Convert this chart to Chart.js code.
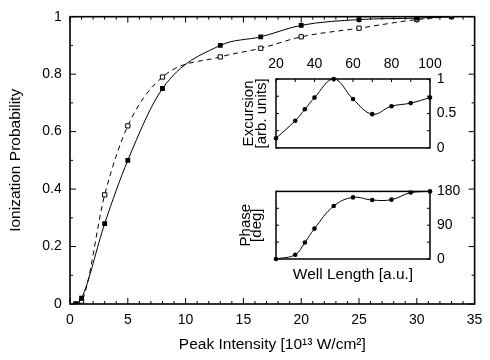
<!DOCTYPE html>
<html>
<head>
<meta charset="utf-8">
<script src="https://cdn.jsdelivr.net/npm/chart.js@4"></script>
<style>
  html, body { margin: 0; padding: 0; background: #fff; }
  #wrap { position: relative; width: 490px; height: 360px; overflow: hidden; }
  canvas { position: absolute; }
</style>
</head>
<body>
<div id="wrap">
  <canvas id="mainChart" width="490" height="360" style="left:0;top:0"></canvas>
  <canvas id="excChart" width="235" height="115" style="left:230px;top:48px"></canvas>
  <canvas id="phaseChart" width="235" height="113" style="left:230px;top:176px"></canvas>
</div>
<script>
// main plot data
const intensity = [0.5, 1, 3, 5, 8, 13, 16.5, 20, 25, 30, 33];
const probSolid = [0, 0.02, 0.28, 0.50, 0.75, 0.90, 0.93, 0.97, 0.99, 0.995, 1.0];
const probDashed = [0, 0.01, 0.38, 0.62, 0.79, 0.86, 0.89, 0.93, 0.96, 0.99, 1.0];

// inset data
const wellLength = [20, 30, 35, 40, 50, 60, 70, 80, 90, 100];
const excursion = [0.14, 0.395, 0.56, 0.73, 1.0, 0.71, 0.49, 0.605, 0.65, 0.73];
const phase = [0, 11.5, 44, 81, 141, 164, 157, 158, 177, 180];

Chart.defaults.font.family = '"Liberation Sans", Arial, sans-serif';
Chart.defaults.color = '#000';

const tickFont = { size: 14 };
const titleFont = { size: 15.5 };
const plainNum = v => String(Math.round(v * 100) / 100);

// box around the plot area plus inward tick marks
const frameTicks = {
    id: 'frameTicks',
    beforeDatasetsDraw(chart, args, opts) {
        const ctx = chart.ctx;
        const a = chart.chartArea;
        ctx.save();
        ctx.strokeStyle = '#000';
        ctx.lineWidth = opts.lineWidth || 1.5;
        ctx.strokeRect(a.left, a.top, a.right - a.left, a.bottom - a.top);
        ctx.lineWidth = 1;
        (opts.marks || []).forEach(m => {
            const scale = chart.scales[m.scale];
            ctx.beginPath();
            for (let v = m.from; v <= m.to + 1e-9; v += m.step) {
                const major = m.major && Math.abs(v / m.major - Math.round(v / m.major)) < 1e-6;
                const len = major ? m.long : m.short;
                const p = scale.getPixelForValue(v);
                m.sides.forEach(side => {
                    if (side === 'bottom') { ctx.moveTo(p, a.bottom); ctx.lineTo(p, a.bottom - len); }
                    if (side === 'top') { ctx.moveTo(p, a.top); ctx.lineTo(p, a.top + len); }
                    if (side === 'left') { ctx.moveTo(a.left, p); ctx.lineTo(a.left + len, p); }
                    if (side === 'right') { ctx.moveTo(a.right, p); ctx.lineTo(a.right - len, p); }
                });
            }
            ctx.stroke();
        });
        ctx.restore();
    }
};

const pts = (xs, ys) => xs.map((x, i) => ({ x: x, y: ys[i] }));

const main = document.getElementById('mainChart').getContext('2d');
const mainChart = new Chart(main, {
    type: 'line',
    data: {
        datasets: [{
            label: 'solid',
            data: pts(intensity, probSolid),
            borderColor: '#000',
            borderWidth: 1,
            backgroundColor: '#000',
            pointStyle: 'rect',
            pointRadius: 3.4,
            pointBorderWidth: 0,
            cubicInterpolationMode: 'monotone'
        },
        {
            label: 'dashed',
            data: pts(intensity, probDashed),
            borderColor: '#000',
            borderWidth: 1,
            borderDash: [5, 4],
            backgroundColor: '#fff',
            pointStyle: 'rect',
            pointRadius: 3.0,
            pointBorderWidth: 1,
            pointBorderColor: '#000',
            cubicInterpolationMode: 'monotone'
        }]
    },
    options: {
        responsive: false,
        animation: false,
        devicePixelRatio: 1,
        layout: { padding: { top: 12, right: 8, left: 0, bottom: 0 } },
        plugins: {
            legend: { display: false },
            tooltip: { enabled: false },
            frameTicks: {
                lineWidth: 1.6,
                marks: [
                    { scale: 'x', from: 0, to: 35, step: 1, major: 5, long: 6, short: 3, sides: ['bottom', 'top'] },
                    { scale: 'y', from: 0, to: 1, step: 0.1, major: 0.2, long: 6, short: 3, sides: ['left', 'right'] }
                ]
            }
        },
        scales: {
            x: {
                type: 'linear', min: 0, max: 35,
                ticks: { stepSize: 5, font: tickFont, padding: 7.6, maxRotation: 0 },
                grid: { display: false, drawTicks: false },
                border: { display: false },
                title: { display: true, text: 'Peak Intensity [10¹³ W/cm²]', font: titleFont, padding: { top: 0, bottom: 5.5 } },
                afterFit(s) { s.height = 56; }
            },
            y: {
                min: 0, max: 1,
                ticks: { stepSize: 0.2, font: tickFont, padding: 8.3, callback: plainNum },
                grid: { display: false, drawTicks: false },
                border: { display: false },
                title: { display: true, text: 'Ionization Probability', font: titleFont, padding: { top: 6, bottom: 0 } },
                afterFit(s) { s.width = 70; }
            }
        }
    },
    plugins: [frameTicks]
});

const exc = document.getElementById('excChart').getContext('2d');
const excChart = new Chart(exc, {
    type: 'line',
    data: {
        datasets: [{
            data: pts(wellLength, excursion),
            borderColor: '#000',
            borderWidth: 1,
            backgroundColor: '#000',
            pointRadius: 2.3,
            pointBorderWidth: 0,
            tension: 0.4,
            clip: false
        }]
    },
    options: {
        responsive: false,
        animation: false,
        devicePixelRatio: 1,
        layout: { padding: { top: 0, right: 0, left: 0, bottom: 10 } },
        plugins: {
            legend: { display: false },
            tooltip: { enabled: false },
            frameTicks: {
                lineWidth: 1.5,
                marks: [
                    { scale: 'x', from: 20, to: 100, step: 10, short: 3, sides: ['top'] },
                    { scale: 'y', from: 0, to: 1, step: 0.25, short: 3, sides: ['left', 'right'] }
                ]
            }
        },
        scales: {
            x: {
                type: 'linear', position: 'top', min: 20, max: 100,
                ticks: { stepSize: 20, font: tickFont, padding: 6.3, maxRotation: 0 },
                grid: { display: false, drawTicks: false },
                border: { display: false },
                afterFit(s) { s.height = 31; }
            },
            y: {
                position: 'right', min: 0, max: 1,
                ticks: { stepSize: 0.5, font: tickFont, padding: 6.7, callback: plainNum },
                grid: { display: false, drawTicks: false },
                border: { display: false },
                afterFit(s) { s.width = 35; }
            },
            yl: {
                position: 'left', min: 0, max: 1,
                ticks: { display: false },
                grid: { display: false, drawTicks: false },
                border: { display: false },
                title: { display: true, text: ['Excursion', '[arb. units]'], font: { size: 15, lineHeight: '13.4px' }, padding: { top: 12.1, bottom: 0 } },
                afterFit(s) { s.width = 46; }
            }
        }
    },
    plugins: [frameTicks]
});

const ph = document.getElementById('phaseChart').getContext('2d');
const phaseChart = new Chart(ph, {
    type: 'line',
    data: {
        datasets: [{
            data: pts(wellLength, phase),
            borderColor: '#000',
            borderWidth: 1,
            backgroundColor: '#000',
            pointRadius: 2.3,
            pointBorderWidth: 0,
            tension: 0.4,
            clip: false
        }]
    },
    options: {
        responsive: false,
        animation: false,
        devicePixelRatio: 1,
        layout: { padding: { top: 10, right: 0, left: 0, bottom: 0 } },
        plugins: {
            legend: { display: false },
            tooltip: { enabled: false },
            frameTicks: {
                lineWidth: 1.5,
                marks: [
                    { scale: 'y', from: 0, to: 180, step: 45, short: 3, sides: ['left', 'right'] }
                ]
            }
        },
        scales: {
            x: {
                type: 'linear', position: 'bottom', min: 20, max: 100,
                ticks: { display: false },
                grid: { display: false, drawTicks: false },
                border: { display: false },
                title: { display: true, text: 'Well Length [a.u.]', font: titleFont, padding: { top: 0, bottom: 4.5 } },
                afterFit(s) { s.height = 30; }
            },
            y: {
                position: 'right', min: 0, max: 180,
                ticks: { stepSize: 90, font: tickFont, padding: 7 },
                grid: { display: false, drawTicks: false },
                border: { display: false },
                afterFit(s) { s.width = 35; }
            },
            yl: {
                position: 'left', min: 0, max: 180,
                ticks: { display: false },
                grid: { display: false, drawTicks: false },
                border: { display: false },
                title: { display: true, text: ['Phase', '[deg]'], font: { size: 15, lineHeight: '11.7px' }, padding: { top: 9.6, bottom: 0 } },
                afterFit(s) { s.width = 46; }
            }
        }
    },
    plugins: [frameTicks]
});
</script>
</body>
</html>
